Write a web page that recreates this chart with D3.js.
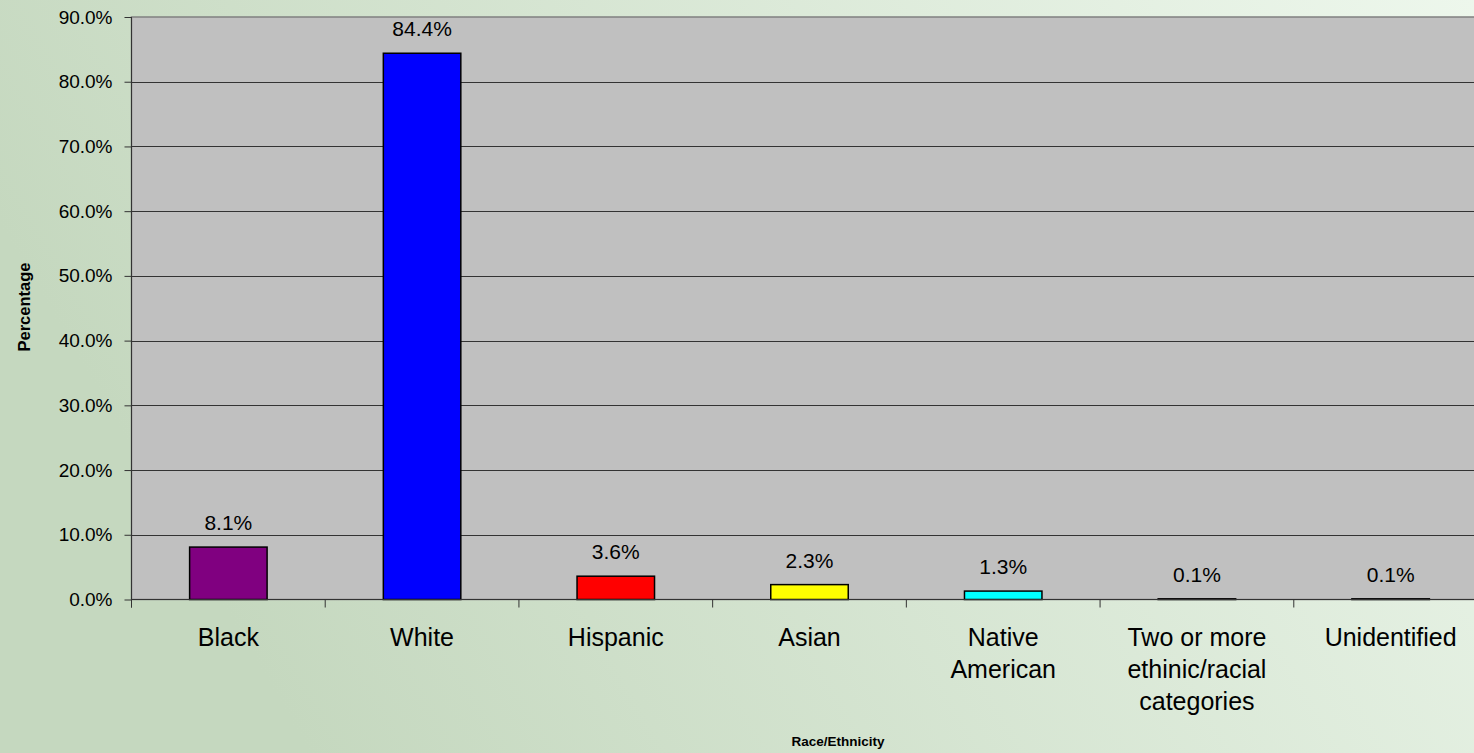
<!DOCTYPE html>
<html>
<head>
<meta charset="utf-8">
<script src="https://cdn.jsdelivr.net/npm/d3@7"></script>
<style>
  html, body { margin: 0; padding: 0; overflow: hidden; }
  text { font-family: "Liberation Sans", Arial, sans-serif; fill: #000; }
</style>
</head>
<body>
<div id="chart"></div>
<script>
const categories = ["Black", "White", "Hispanic", "Asian", "Native American", "Two or more ethinic/racial categories", "Unidentified"];
const labelLines = [["Black"], ["White"], ["Hispanic"], ["Asian"], ["Native", "American"], ["Two or more", "ethinic/racial", "categories"], ["Unidentified"]];
const percentages = [8.1, 84.4, 3.6, 2.3, 1.3, 0.1, 0.1];
const barColors = ["#800080", "#0000ff", "#ff0000", "#ffff00", "#00ffff", "#993366", "#808080"];
const yTicks = [0, 10, 20, 30, 40, 50, 60, 70, 80, 90];

const W = 1474, H = 753;
const plot = { left: 131.5, top: 17, right: 1487.5, bottom: 599.5 };

const svg = d3.select("#chart").append("svg")
  .attr("width", W)
  .attr("height", H);

const defs = svg.append("defs");
const grad = defs.append("linearGradient")
  .attr("id", "bg")
  .attr("x1", "0").attr("y1", "0.3").attr("x2", "1").attr("y2", "0");
grad.append("stop").attr("offset", "0%").attr("stop-color", "#c5d8bf");
grad.append("stop").attr("offset", "100%").attr("stop-color", "#edf7ec");

svg.append("rect")
  .attr("width", W).attr("height", H)
  .attr("fill", "url(#bg)");

const x = d3.scaleBand()
  .domain(categories)
  .range([plot.left, plot.right]);

const y = d3.scaleLinear()
  .domain([0, 90])
  .range([plot.bottom, plot.top]);

// plot area
svg.append("rect")
  .attr("x", plot.left).attr("y", plot.top)
  .attr("width", plot.right - plot.left).attr("height", plot.bottom - plot.top)
  .attr("fill", "#c0c0c0")
  .attr("stroke", "#808080")
  .attr("stroke-width", 1.5);

// gridlines
svg.append("g")
  .selectAll("line")
  .data(yTicks.filter(d => d > 0 && d < 90))
  .enter()
  .append("line")
  .attr("x1", plot.left).attr("x2", plot.right)
  .attr("y1", d => Math.round(y(d)) + 0.5).attr("y2", d => Math.round(y(d)) + 0.5)
  .attr("stroke", "#333")
  .attr("stroke-width", 1);

// bars
const barW = x.bandwidth() * 0.4;
svg.append("g")
  .selectAll("rect")
  .data(percentages)
  .enter()
  .append("rect")
  .attr("x", (d, i) => x(categories[i]) + (x.bandwidth() - barW) / 2)
  .attr("y", d => y(d))
  .attr("width", barW)
  .attr("height", d => y(0) - y(d))
  .attr("fill", (d, i) => barColors[i])
  .attr("stroke", "#000")
  .attr("stroke-width", 1.5);

// data labels
svg.append("g")
  .selectAll("text")
  .data(percentages)
  .enter()
  .append("text")
  .attr("x", (d, i) => x(categories[i]) + x.bandwidth() / 2)
  .attr("y", d => y(d) - 17)
  .attr("text-anchor", "middle")
  .style("font-size", "21px")
  .text(d => d3.format(".1f")(d) + "%");

// y axis
const yAxis = svg.append("g")
  .attr("transform", "translate(" + plot.left + ",0)")
  .call(d3.axisLeft(y).tickValues(yTicks).tickSize(7).tickPadding(12).tickFormat(d => d3.format(".1f")(d) + "%"));
yAxis.select(".domain").attr("stroke", "#333").attr("d", "M0," + plot.top + "V" + (plot.bottom + 8));
yAxis.selectAll(".tick line").attr("stroke", "#333");
yAxis.selectAll(".tick text").style("font-size", "19px").style("font-family", "Liberation Sans, Arial, sans-serif");

// x axis
const xAxis = svg.append("g")
  .attr("transform", "translate(0," + plot.bottom + ")")
  .call(d3.axisBottom(x).tickValues([]).tickSize(0));
xAxis.select(".domain").attr("stroke", "#333").attr("d", "M" + plot.left + ",0H" + plot.right);
xAxis.selectAll(".sep")
  .data(categories)
  .enter()
  .append("line")
  .attr("class", "sep")
  .attr("x1", d => x(d)).attr("x2", d => x(d))
  .attr("y1", 0).attr("y2", 8)
  .attr("stroke", "#333");

const catLabels = svg.append("g")
  .selectAll("text")
  .data(labelLines)
  .enter()
  .append("text")
  .attr("x", (d, i) => x(categories[i]) + x.bandwidth() / 2)
  .attr("y", 646)
  .attr("text-anchor", "middle")
  .style("font-size", "25px");
catLabels.selectAll("tspan")
  .data(d => d)
  .enter()
  .append("tspan")
  .attr("x", function () { return d3.select(this.parentNode).attr("x"); })
  .attr("dy", (d, i) => i === 0 ? 0 : 32)
  .text(d => d);

// axis titles
svg.append("text")
  .attr("x", 838).attr("y", 746)
  .attr("text-anchor", "middle")
  .style("font-size", "13.5px")
  .style("font-weight", "bold")
  .text("Race/Ethnicity");

svg.append("text")
  .attr("transform", "translate(30,307) rotate(-90)")
  .attr("text-anchor", "middle")
  .style("font-size", "16.5px")
  .style("font-weight", "bold")
  .text("Percentage");
</script>
</body>
</html>
